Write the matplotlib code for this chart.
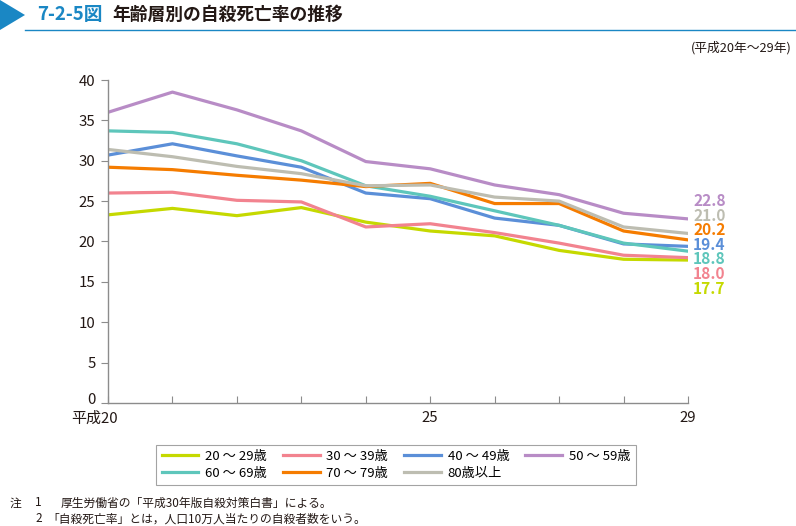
import numpy as np
import matplotlib.pyplot as plt
import matplotlib.transforms as mtransforms
from matplotlib.patches import Polygon
from matplotlib.lines import Line2D

plt.rcParams['font.family'] = ['Noto Sans CJK JP', 'DejaVu Sans']

years = [20, 21, 22, 23, 24, 25, 26, 27, 28, 29]
labels = ['20 ～ 29歳', '30 ～ 39歳', '40 ～ 49歳', '50 ～ 59歳',
          '60 ～ 69歳', '70 ～ 79歳', '80歳以上']
colors = ['#c5d900', '#f2838f', '#5b8fd8', '#b88cc6',
          '#5ec6bb', '#f57c00', '#bdbdb1']

age20 = [23.3, 24.1, 23.2, 24.2, 22.4, 21.3, 20.7, 18.9, 17.8, 17.7]
age30 = [26.0, 26.1, 25.1, 24.9, 21.8, 22.2, 21.1, 19.8, 18.3, 18.0]
age40 = [30.7, 32.1, 30.6, 29.2, 26.0, 25.3, 22.9, 22.0, 19.7, 19.4]
age50 = [36.0, 38.5, 36.3, 33.7, 29.9, 29.0, 27.0, 25.8, 23.5, 22.8]
age60 = [33.7, 33.5, 32.1, 30.0, 26.9, 25.6, 23.8, 22.0, 19.8, 18.8]
age70 = [29.2, 28.9, 28.2, 27.6, 26.8, 27.2, 24.7, 24.7, 21.3, 20.2]
age80 = [31.4, 30.5, 29.3, 28.4, 26.9, 27.0, 25.5, 25.0, 21.8, 21.0]
series = [age20, age30, age40, age50, age60, age70, age80]

# end labels, top to bottom
end_order = [3, 6, 5, 2, 4, 1, 0]

fig = plt.figure(figsize=(7.96, 5.26), dpi=100)

# header
fig.patches.append(Polygon([[0, 1], [0, 1 - 30 / 526], [25 / 796, 1 - 15 / 526]],
                           closed=True, transform=fig.transFigure,
                           facecolor='#1a87c4', edgecolor='none'))
fig.add_artist(Line2D([25 / 796, 1], [1 - 30 / 526, 1 - 30 / 526],
                      transform=fig.transFigure, color='#1a87c4', lw=1))
fig.text(37 / 796, 1 - 15 / 526, '7-2-5図', color='#1a87c4', fontsize=13.5,
         fontweight='bold', va='center')
fig.text(112 / 796, 1 - 15 / 526, '年齢層別の自殺死亡率の推移', color='#231815',
         fontsize=12.8, fontweight='bold', va='center')
fig.text(792 / 796, 1 - 48 / 526, '(平成20年～29年)', color='#231815',
         fontsize=9.2, ha='right', va='center')

ax = fig.add_axes([108 / 796, 1 - 403 / 526, 580 / 796, 323 / 526])

handles = []
for s, c, lab in zip(series, colors, labels):
    h, = ax.plot(years, s, color=c, lw=2.3, label=lab)
    handles.append(h)

ax.set_xlim(20, 29)
ax.set_ylim(0, 40)
ax.set_yticks(range(0, 41, 5))
ax.set_xticks(years)
ax.set_xticklabels(['平成20', '', '', '', '', '25', '', '', '', '29'])

for sp in ['top', 'right']:
    ax.spines[sp].set_visible(False)
for sp in ['left', 'bottom']:
    ax.spines[sp].set_color('#8c8c8c')
    ax.spines[sp].set_linewidth(1.0)
ax.tick_params(axis='y', direction='out', length=5, color='#8c8c8c',
               labelsize=10.8, labelcolor='#231815', pad=4)
ax.tick_params(axis='x', direction='in', length=5, color='#8c8c8c',
               labelsize=10.8, labelcolor='#231815', pad=6)

# the "0" label sits a little above its tick
zero = ax.get_yticklabels()[0]
zero.set_transform(zero.get_transform() +
                   mtransforms.ScaledTranslation(0, 4 / 100, fig.dpi_scale_trans))

# shift "平成20" so the "20" part sits on the tick
first = ax.get_xticklabels()[0]
first.set_horizontalalignment('right')
first.set_transform(first.get_transform() +
                    mtransforms.ScaledTranslation(10 / 100, 0, fig.dpi_scale_trans))

# value labels at the right end
for k, i in enumerate(end_order):
    fig.text(693 / 796, 1 - (201 + 14.6 * k) / 526, f'{series[i][-1]:.1f}',
             color=colors[i], fontsize=11.2, fontweight='bold', va='center')

# legend filled row by row
order = [0, 4, 1, 5, 2, 6, 3]
leg = fig.legend([handles[i] for i in order], [labels[i] for i in order],
                 loc='center', bbox_to_anchor=(396 / 796, 1 - 465 / 526),
                 ncol=4, fontsize=9.5, frameon=True, fancybox=False,
                 handlelength=2.8, columnspacing=1.2, handletextpad=0.5,
                 labelspacing=0.3, borderpad=0.4)
leg.get_frame().set_edgecolor('#8c8c8c')
leg.get_frame().set_linewidth(0.8)

fig.text(10 / 796, 1 - 503 / 526, '注', fontsize=8.5, color='#231815', va='center')
fig.text(35 / 796, 1 - 503 / 526, '1', fontsize=8.5, color='#231815', va='center')
fig.text(61 / 796, 1 - 503 / 526, '厚生労働省の「平成30年版自殺対策白書」による。',
         fontsize=8.5, color='#231815', va='center')
fig.text(35 / 796, 1 - 519 / 526, '2', fontsize=8.5, color='#231815', va='center')
fig.text(47 / 796, 1 - 519 / 526, '「自殺死亡率」とは，人口10万人当たりの自殺者数をいう。',
         fontsize=8.5, color='#231815', va='center')

fig.savefig('out.png', dpi=100)
